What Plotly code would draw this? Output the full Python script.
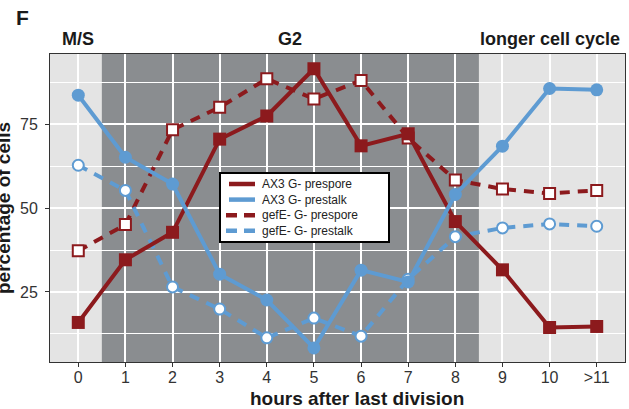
import plotly.graph_objects as go

# hours after last division (category positions 0..11)
hours = list(range(12))
hour_labels = ["0", "1", "2", "3", "4", "5", "6", "7", "8", "9", "10", ">11"]

# percentage of cells per time point
ax3_prespore = [15.9, 34.6, 42.8, 70.6, 77.5, 91.6, 68.6, 72.2, 46.0, 31.6, 14.4, 14.7]
ax3_prestalk = [83.7, 65.2, 57.2, 30.3, 22.6, 8.3, 31.5, 28.0, 54.1, 68.5, 85.7, 85.3]
gefe_prespore = [37.3, 45.1, 73.4, 80.1, 88.6, 82.6, 88.1, 70.9, 58.4, 55.7, 54.4, 55.3]
gefe_prestalk = [62.8, 55.3, 26.5, 19.9, 11.3, 17.2, 11.8, 28.8, 41.5, 44.1, 45.3, 44.6]

# cell-cycle phases shown along the top
phase_names = ["M/S", "G2", "longer cell cycle"]
phase_centres = [0.0, 4.5, 10.0]
g2_start, g2_end = 0.5, 8.5

RED = "#8c1a1d"
BLUE = "#5e9bd2"
FONT = "Liberation Sans, Arial, sans-serif"
DASH = "10px,8px"

# plot-area geometry in pixels, used to place the key box and labels
L, R, T, B = 50, 625, 54, 362


def px(x):
    return (x - L) / (R - L)


def py(y):
    return (B - y) / (B - T)


series = {
    "AX3 G- prespore": (ax3_prespore, RED, "solid", "square", RED, 13),
    "AX3 G- prestalk": (ax3_prestalk, BLUE, "solid", "circle", BLUE, 13),
    "gefE- G- prespore": (gefe_prespore, RED, DASH, "square", "white", 11),
    "gefE- G- prestalk": (gefe_prestalk, BLUE, DASH, "circle", "white", 11),
}
draw_order = ["gefE- G- prespore", "gefE- G- prestalk", "AX3 G- prespore", "AX3 G- prestalk"]
key_order = ["AX3 G- prespore", "AX3 G- prestalk", "gefE- G- prespore", "gefE- G- prestalk"]

fig = go.Figure()
for name in draw_order:
    vals, col, dash, sym, fill, size = series[name]
    fig.add_trace(go.Scatter(
        x=hours, y=vals, mode="lines", name=name, showlegend=False,
        line=dict(color=col, width=4, dash=dash),
    ))
    fig.add_trace(go.Scatter(
        x=hours, y=vals, mode="markers", name=name, showlegend=False,
        marker=dict(symbol=sym, size=size, color=fill,
                    line=dict(color=col, width=2 if fill == "white" else 0)),
    ))

# dark band marking the G2 phase
fig.add_shape(type="rect", xref="x", yref="paper", x0=g2_start, x1=g2_end,
              y0=0, y1=1, fillcolor="#8a8d90", line_width=0, layer="below")

# key box with line samples
fig.add_shape(type="rect", xref="paper", yref="paper", x0=px(220), x1=px(389),
              y0=py(242), y1=py(173), fillcolor="white",
              line=dict(color="black", width=2))
for i, name in enumerate(key_order):
    _, col, dash, *_ = series[name]
    row_y = 184 + i * 15.6
    x_start = 229 if dash == "solid" else 226
    fig.add_shape(type="line", xref="paper", yref="paper",
                  x0=px(x_start), x1=px(255), y0=py(row_y), y1=py(row_y),
                  line=dict(color=col, width=4.5,
                            dash="solid" if dash == "solid" else "11px,7px"))
    fig.add_annotation(x=px(260), y=py(row_y), xref="paper", yref="paper",
                       xanchor="left", yanchor="middle", text=name, showarrow=False,
                       font=dict(family=FONT, size=12, color="#222222"))

for name, cx in zip(phase_names, phase_centres):
    fig.add_annotation(x=cx, xref="x", y=1, yref="paper", yanchor="bottom",
                       yshift=3, text=f"<b>{name}</b>", showarrow=False,
                       font=dict(family=FONT, size=18, color="#1a1a1a"))

fig.add_annotation(x=px(22), xref="paper", y=py(17), yref="paper",
                   xanchor="center", yanchor="middle", text="<b>F</b>",
                   showarrow=False, font=dict(family=FONT, size=21, color="#1a1a1a"))

fig.add_annotation(x=px(357), xref="paper", y=py(398), yref="paper",
                   xanchor="center", yanchor="middle",
                   text="<b>hours after last division</b>",
                   showarrow=False, font=dict(family=FONT, size=19, color="#1a1a1a"))

fig.add_annotation(x=px(3), xref="paper", y=0.5, yref="paper",
                   xanchor="center", yanchor="middle", textangle=-90,
                   text="<b>percentage of cells</b>",
                   showarrow=False, font=dict(family=FONT, size=19, color="#1a1a1a"))

fig.update_layout(
    width=629, height=409,
    margin=dict(l=L, r=629 - R, t=T, b=409 - B),
    paper_bgcolor="white", plot_bgcolor="#e4e4e4",
    font=dict(family=FONT, color="#333333"),
    showlegend=False,
    xaxis=dict(range=[-0.6, 11.6], tickvals=hours, ticktext=hour_labels,
               showgrid=True, gridcolor="white", gridwidth=2, zeroline=False,
               showline=True, mirror=True, linecolor="#333333", linewidth=1,
               ticks="outside", ticklen=4, tickcolor="#333333",
               ticklabelstandoff=-3,
               tickfont=dict(family=FONT, size=16, color="#333333")),
    yaxis=dict(range=[4.1, 96], tickvals=[25, 50, 75],
               showgrid=True, gridcolor="white", gridwidth=2, zeroline=False,
               minor=dict(tickvals=[12.5, 37.5, 62.5, 87.5], showgrid=True,
                          gridcolor="white", gridwidth=1.2, ticks=""),
               showline=True, mirror=True, linecolor="#333333", linewidth=1,
               ticks="outside", ticklen=4, tickcolor="#333333",
               ticklabelstandoff=4,
               tickfont=dict(family=FONT, size=16, color="#333333")),
)

fig.write_html("out.html")
